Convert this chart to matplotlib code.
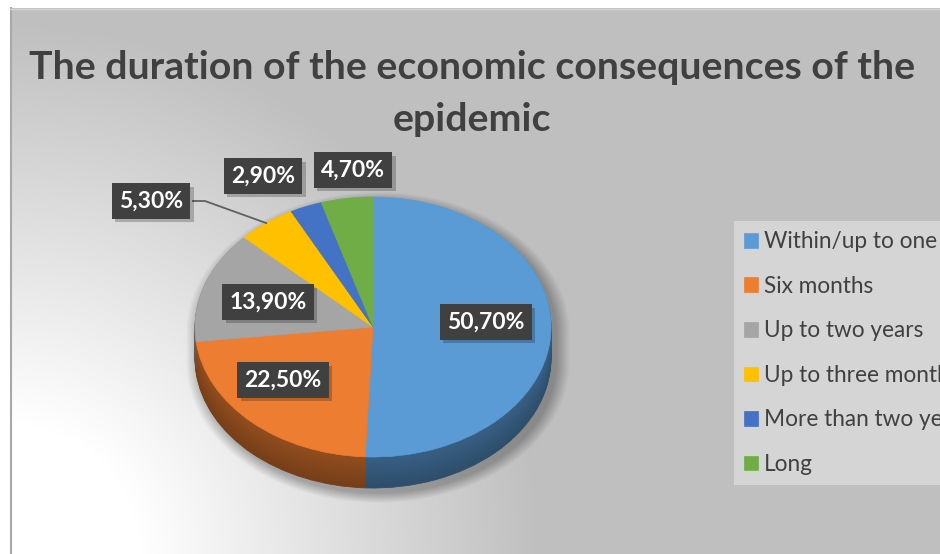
import numpy as np
import matplotlib.pyplot as plt
import matplotlib.colors as mcolors
import matplotlib.patheffects as pe

categories = ['Within/up to one year', 'Six months', 'Up to two years',
              'Up to three months', 'More than two years', 'Long']
shares = [50.7, 22.5, 13.9, 5.3, 2.9, 4.7]
colors = ['#5b9bd5', '#ed7d31', '#a5a5a5', '#ffc000', '#4472c4', '#70ad47']
title = 'The duration of the economic consequences of the\nepidemic'

W, H = 940, 554
# pie placement in pixels: centre, radii of the top face, thickness
cx, cy, rx, ry, depth = 373, 327, 178, 130, 31
# data label centres in pixels
label_xy = [(486, 322), (283, 380), (268, 302), (151, 201), (263, 176), (353, 170)]

plt.rcParams['font.family'] = ['Lato', 'DejaVu Sans']
fig = plt.figure(figsize=(W / 100, H / 100), dpi=100)
fig.patch.set_facecolor('white')

# background: radial gradient from the lower left corner + soft pie shadow
bg = fig.add_axes([0, 0, 1, 1], zorder=0)
yy, xx = np.mgrid[8:H, 10:W] + 0.5
d = np.hypot(xx - 10, yy - H)
t = np.clip((d - 130) / 400, 0, 1)
shade = 1.0 - 0.25 * t
dy = yy - (cy + 5)
dy = np.where(dy > depth, dy - depth, np.where(dy < 0, dy, 0))
r = np.hypot((xx - cx - 5) / rx, dy / ry)
shadow = 0.28 * np.clip(1 - (r - 1) * rx / 14, 0, 1)
shade = shade * (1 - shadow)
bg.imshow(np.dstack([shade] * 3), extent=(10, W, H, 8), interpolation='bilinear')
bg.plot([10.5, 10.5], [8, H], color='#a8a8a8', lw=1.5)
bg.plot([10, W], [8.5, 8.5], color='#d4d4d4', lw=1)
bg.set_xlim(0, W)
bg.set_ylim(H, 0)
bg.axis('off')

# pie: stacked darker layers give the side, then the top face
pa = fig.add_axes([0, 0, 1, 1], zorder=1)
pa.patch.set_visible(False)
n_layers = 32
for k in range(n_layers, 0, -1):
    f = 0.50 + 0.12 * (1 - k / n_layers)
    side = [tuple(np.array(mcolors.to_rgb(c)) * f) for c in colors]
    ws, _ = pa.pie(shares, colors=side, startangle=90, counterclock=False,
                   center=(0, -depth / ry * k / n_layers), frame=True)
    for w in ws:
        w.set_edgecolor(w.get_facecolor())
        w.set_linewidth(0.6)
top, _ = pa.pie(shares, colors=colors, startangle=90, counterclock=False, frame=True)
for w in top:
    w.set_edgecolor(w.get_facecolor())
    w.set_linewidth(0.5)
pa.set_aspect('auto')
pa.set_xlim(-cx / rx, (W - cx) / rx)
pa.set_ylim(-(H - cy) / ry, cy / ry)
pa.axis('off')

# labels, leader line, title and legend
ov = fig.add_axes([0, 0, 1, 1], zorder=2)
ov.patch.set_visible(False)
ov.set_xlim(0, W)
ov.set_ylim(H, 0)
ov.axis('off')

# leader from the "Up to three months" label to the middle of its slice rim
cum = np.cumsum([0] + shares)
mid = np.radians((cum[3] + cum[4]) / 2 * 3.6)
rim = (cx + rx * np.sin(mid), cy - ry * np.cos(mid))
lx, ly = label_xy[3]
ov.plot([lx + 42, lx + 54, rim[0]], [ly, ly, rim[1]], color='#606060', lw=1.3)

for v, (x, y) in zip(shares, label_xy):
    s = f'{v:.2f}'.replace('.', ',') + '%'
    lab = ov.text(x, y, s, ha='center', va='center', fontsize=16.5,
                  fontweight='bold', color='white',
                  bbox=dict(boxstyle='square,pad=0.32', facecolor='#404040', edgecolor='none'))
    lab.get_bbox_patch().set_path_effects(
        [pe.SimplePatchShadow(offset=(2.5, -2.5), shadow_rgbFace='black', alpha=0.22), pe.Normal()])

fig.text(472 / W, 1 - 50 / H, title, ha='center', va='top', fontsize=28.3,
         fontweight='bold', color='#404040', linespacing=1.6)

leg = ov.legend(top, categories, loc='upper left',
                bbox_to_anchor=(734 / W, 1 - 221 / H), bbox_transform=fig.transFigure,
                frameon=True, fancybox=False, facecolor='#d5d5d5', edgecolor='none',
                framealpha=1, fontsize=16.3, handlelength=0.62, handleheight=0.62,
                handletextpad=0.26, borderpad=0.45, labelspacing=1.04, borderaxespad=0)
for txt in leg.get_texts():
    txt.set_color('#404040')

fig.savefig('out.png', dpi=100)
